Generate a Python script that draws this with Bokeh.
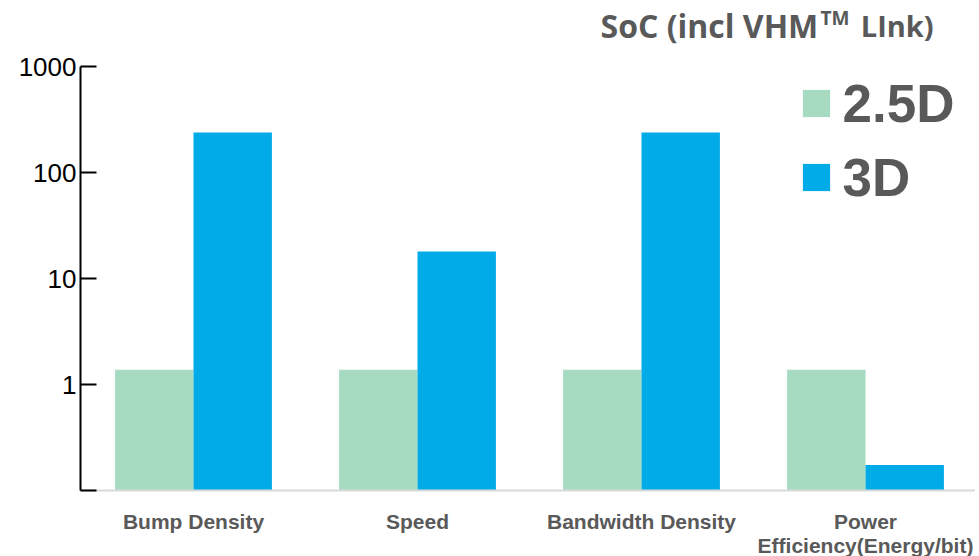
from bokeh.plotting import figure
from bokeh.models import ColumnDataSource, FixedTicker, Label, Legend, LegendItem
from bokeh.embed import file_html
from bokeh.resources import INLINE

# ---- data ----
categories = ["Bump Density", "Speed", "Bandwidth Density", "Power\nEfficiency(Energy/bit)"]
series_names = ["2.5D", "3D"]
values_25d = [1.38, 1.38, 1.38, 1.38]
values_3d = [238, 18, 238, 0.174]
y_ticks = [0.1, 1, 10, 100, 1000]
y_tick_labels = ["", "1", "10", "100", "1000"]

COL_25D = "#a7dbc1"
COL_3D = "#00abe7"
GRAY = "#595959"

xpos = list(range(len(categories)))
bar_w = 0.35
src = ColumnDataSource(dict(
    x25=[x - bar_w / 2 for x in xpos],
    x3=[x + bar_w / 2 for x in xpos],
    v25=values_25d,
    v3=values_3d,
))

# frame spans from the top of the canvas; axis line limited to 0.1..1000
y_top = 1000 * 10 ** (66 / 106)
p = figure(frame_width=895, frame_height=490, output_backend="svg", toolbar_location=None,
           y_axis_type="log", x_range=(-0.5045, 3.491), y_range=(0.1, y_top),
           min_border_left=80, min_border_right=0, min_border_top=0,
           min_border_bottom=0)
p.outline_line_color = None
p.grid.grid_line_color = None
p.background_fill_color = "white"

r25 = p.vbar(x="x25", top="v25", bottom=0.1, width=bar_w, source=src,
             fill_color=COL_25D, line_color=None)
r3 = p.vbar(x="x3", top="v3", bottom=0.1, width=bar_w, source=src,
            fill_color=COL_3D, line_color=None)

# y axis
ya = p.yaxis[0]
ya.bounds = (0.1, 1000)
ya.ticker = FixedTicker(ticks=y_ticks, minor_ticks=[])
ya.major_label_overrides = {t: l for t, l in zip(y_ticks, y_tick_labels)}
ya.axis_line_color = "black"
ya.axis_line_width = 2
ya.major_tick_line_color = "black"
ya.major_tick_line_width = 2
ya.major_tick_in = 16
ya.major_tick_out = 0
ya.minor_tick_line_color = None
ya.major_label_text_font = "Liberation Sans"
ya.major_label_text_font_size = "26px"
ya.major_label_text_color = "black"
ya.major_label_standoff = 4

# x axis
xa = p.xaxis[0]
xa.ticker = FixedTicker(ticks=xpos, minor_ticks=[])
xa.major_label_overrides = {i: c for i, c in zip(xpos, categories)}
xa.axis_line_color = "#d9d9d9"
xa.axis_line_width = 2
xa.major_tick_line_color = None
xa.minor_tick_line_color = None
xa.major_label_text_font = "Liberation Sans"
xa.major_label_text_font_style = "bold"
xa.major_label_text_font_size = "21px"
xa.major_label_text_line_height = 1.05
xa.major_label_text_color = GRAY
xa.major_label_standoff = 13

# legend
legend = Legend(items=[LegendItem(label=series_names[0], renderers=[r25]),
                       LegendItem(label=series_names[1], renderers=[r3])],
                location=(718.6, 282.5), glyph_width=34, glyph_height=34,
                label_text_font="Liberation Sans", label_text_font_style="bold",
                label_text_font_size="53px", label_text_color=GRAY,
                label_standoff=10, label_height=61, spacing=13, padding=0,
                margin=0, border_line_color=None, background_fill_alpha=0)
p.add_layout(legend, "center")

# title (positioned in data space at the top of the frame)
tfont = "Open Sans"
title_parts = [("SoC (incl VHM", 1.817, 2457, "32px", "left"),
               ("TM", 2.799, 2837, "19px", "left"),
               ("LInk)", 3.304, 2457, "29px", "right")]
for txt, tx, ty, fs, al in title_parts:
    p.add_layout(Label(x=tx, y=ty, text=txt, text_font=tfont, text_font_style="bold",
                       text_font_size=fs, text_color=GRAY, text_baseline="alphabetic",
                       text_align=al))

open("out.html", "w").write(file_html(p, INLINE))
